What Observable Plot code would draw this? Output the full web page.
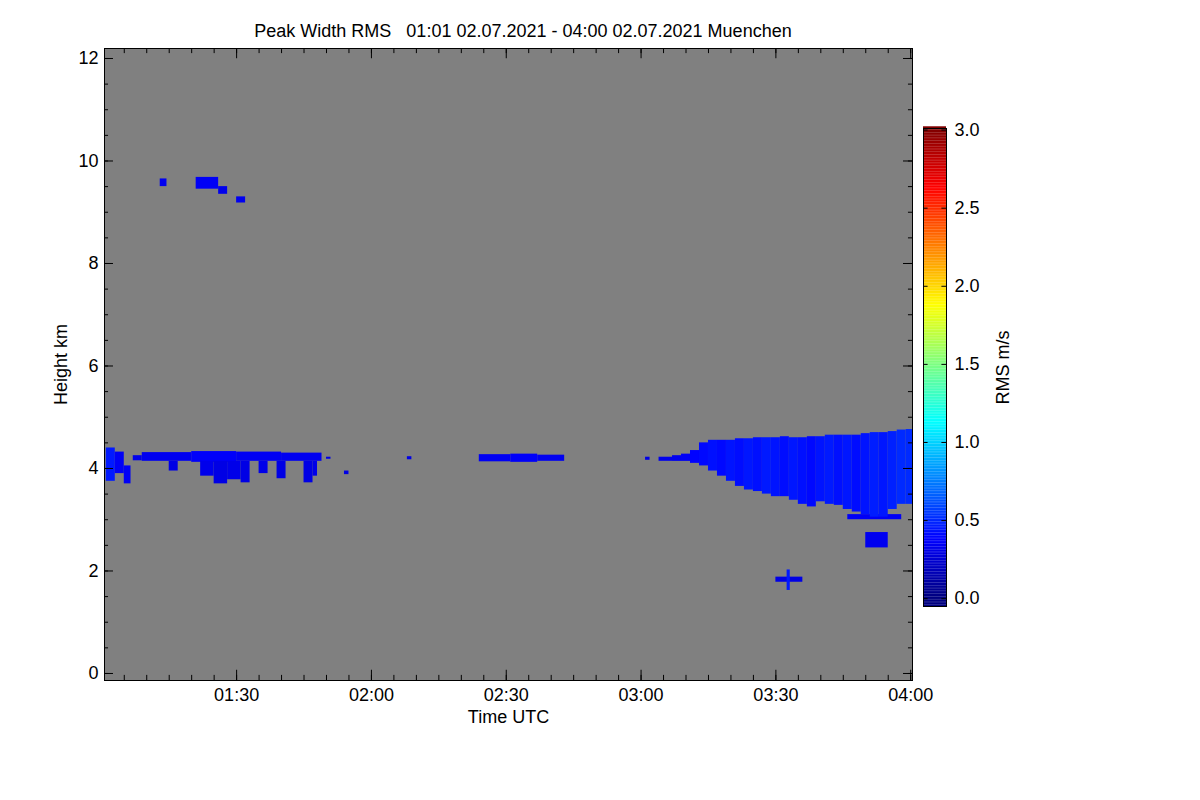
<!DOCTYPE html>
<html><head><meta charset="utf-8">
<script src="https://cdn.jsdelivr.net/npm/d3@7"></script>
<script src="https://cdn.jsdelivr.net/npm/@observablehq/plot@0.6"></script>
<style>
body{margin:0;background:#fff;font-family:"Liberation Sans",Arial,sans-serif;}
#wrap{position:relative;width:1200px;height:800px;}
#title{position:absolute;left:0;width:1046px;top:21px;text-align:center;font-size:18px;color:#000;white-space:pre;}
#main{position:absolute;left:0;top:0;}
#cbar{position:absolute;left:923px;top:0;}
</style></head><body>
<div id="wrap"><div id="title">Peak Width RMS   01:01 02.07.2021 - 04:00 02.07.2021 Muenchen</div><div id="main"></div><div id="cbar"></div></div>
<script>
// minutes since 01:00 UTC, heights in km, value in m/s
// main lower layer and virga patches [t0, t1, top, base, value]
const leftLayer = [
 [1,3,4.4,3.75,0.45],[3,5,4.32,3.9,0.35],[5,6.5,4.05,3.7,0.35],[7,9,4.25,4.15,0.32],
 [9,20,4.31,4.14,0.33],[20,30,4.33,4.12,0.36],[30,40,4.32,4.14,0.34],[40,49,4.3,4.14,0.33],
 [15,17,4.14,3.95,0.3],[22,25,4.14,3.85,0.32],[25,28,4.14,3.7,0.3],[28,31,4.14,3.78,0.31],
 [31,33,4.14,3.72,0.3],[35,37,4.14,3.9,0.31],[39,41,4.14,3.8,0.3],[45,47,4.14,3.72,0.3],
 [47,48,4.14,3.85,0.31],[50,51,4.22,4.18,0.3],[54,55,3.95,3.88,0.3]
];
const midLayer = [
 [68,69,4.23,4.17,0.3],[84,91,4.27,4.13,0.34],[91,97,4.28,4.12,0.36],[97,103,4.26,4.14,0.33],
 [121,122,4.22,4.16,0.3],[124,131,4.22,4.14,0.32]
];
// right cloud columns: time, top, base, value
const rightT    = [127,129,131,133,135,137,139,141,143,145,147,149,151,153,155,157,159,161,163,165,167,169,171,173,175,177,179];
const rightTop  = [4.25,4.28,4.35,4.5,4.55,4.55,4.55,4.58,4.58,4.6,4.6,4.6,4.62,4.6,4.6,4.62,4.62,4.65,4.65,4.65,4.65,4.68,4.7,4.7,4.72,4.75,4.76];
const rightBase = [4.15,4.15,4.1,4.05,3.95,3.85,3.75,3.65,3.58,3.55,3.5,3.45,3.45,3.38,3.3,3.25,3.35,3.3,3.28,3.2,3.15,3.1,3.05,3.05,3.2,3.3,3.3];
const rightVal  = [0.33,0.35,0.38,0.4,0.42,0.4,0.43,0.41,0.44,0.42,0.45,0.43,0.41,0.44,0.42,0.4,0.43,0.45,0.42,0.44,0.41,0.43,0.46,0.44,0.47,0.5,0.5];
// isolated features
const otherPatches = [
 [13,14.5,9.65,9.5,0.33],[21,26,9.68,9.45,0.35],[26,28,9.5,9.35,0.32],[30,32,9.3,9.18,0.33],
 [170,175,2.75,2.45,0.33],[166,178,3.1,3.0,0.35],
 [150,156,1.88,1.78,0.3],[152.5,153.2,2.02,1.62,0.45]
];
const tickTimes = ["01:30","02:00","02:30","03:00","03:30","04:00"];
const heightTicks = [0,2,4,6,8,10,12];
const cbarTicks = [0,0.5,1.0,1.5,2.0,2.5,3.0];

const base = new Date(Date.UTC(2021,6,2,1,0));
const T = m => new Date(base.getTime()+m*60000);
const cells = [];
for (const [a,b,t,bs,v] of [...leftLayer,...midLayer,...otherPatches]) cells.push({x1:T(a),x2:T(b),y1:bs,y2:t,v});
rightT.forEach((t,i)=>cells.push({x1:T(t),x2:T(Math.min(t+2,180.4)),y1:rightBase[i],y2:rightTop[i],v:rightVal[i]}));

const jet = t => {
  const r = Math.min(Math.max(Math.min(4*t-1.5,-4*t+4.5),0),1);
  const g = Math.min(Math.max(Math.min(4*t-0.5,-4*t+3.5),0),1);
  const b = Math.min(Math.max(Math.min(4*t+0.5,-4*t+2.5),0),1);
  return d3.rgb(r*255,g*255,b*255).toString();
};
const col = v => jet(Math.max(0,Math.min(1,v/3.0)));
const minorY = d3.range(0,12.01,0.5);
const minorX = d3.range(5,181,5);
const fmt = d => d3.utcFormat("%H:%M")(d);
const tickDates = tickTimes.map(s=>{const [h,m]=s.split(":").map(Number);return T((h-1)*60+m);});
const X0=0.6, X1=180.4, Y0=-0.137, Y1=12.195;

const main = Plot.plot({
  width:1200,height:800,marginLeft:104,marginRight:288,marginTop:48,marginBottom:120,
  style:{fontFamily:"Liberation Sans, Arial, sans-serif",fontSize:"18px",background:"transparent",color:"#000"},
  x:{type:"utc",domain:[T(X0),T(X1)]},
  y:{domain:[Y0,Y1]},
  marks:[
    Plot.rect([0],{x1:()=>T(X0),x2:()=>T(X1),y1:Y0,y2:Y1,fill:"#808080"}),
    Plot.rect(cells,{x1:"x1",x2:"x2",y1:"y1",y2:"y2",fill:d=>col(d.v)}),
    Plot.ruleY(minorY,{y:d=>d,x1:()=>T(X0),x2:()=>T(X0+0.9),stroke:"#000"}),
    Plot.ruleY(minorY,{y:d=>d,x1:()=>T(X1-0.9),x2:()=>T(X1),stroke:"#000"}),
    Plot.ruleY(heightTicks,{y:d=>d,x1:()=>T(X0),x2:()=>T(X0+2),stroke:"#000"}),
    Plot.ruleY(heightTicks,{y:d=>d,x1:()=>T(X1-2),x2:()=>T(X1),stroke:"#000"}),
    Plot.ruleX(minorX,{x:d=>T(d),y1:Y0,y2:Y0+0.1,stroke:"#000"}),
    Plot.ruleX(minorX,{x:d=>T(d),y1:Y1-0.1,y2:Y1,stroke:"#000"}),
    Plot.ruleX(tickDates,{x:d=>d,y1:Y0,y2:Y0+0.2,stroke:"#000"}),
    Plot.ruleX(tickDates,{x:d=>d,y1:Y1-0.2,y2:Y1,stroke:"#000"}),
    Plot.axisY({ticks:heightTicks,tickSize:0,tickPadding:6,label:"Height km",labelAnchor:"center",labelArrow:"none",labelOffset:50}),
    Plot.axisX({ticks:tickDates,tickFormat:fmt,tickSize:0,tickPadding:8,label:"Time UTC",labelAnchor:"center",labelArrow:"none",labelOffset:42}),
    Plot.frame({stroke:"#000"})
  ]
});
document.getElementById("main").append(main);

const cb = d3.range(-0.05,3.02,0.01);
const cbar = Plot.plot({
  width:120,height:800,marginLeft:0,marginRight:97,marginTop:128,marginBottom:194,
  style:{fontFamily:"Liberation Sans, Arial, sans-serif",fontSize:"18px",background:"transparent",color:"#000"},
  x:{domain:[0,1],axis:null},
  y:{domain:[-0.05,3.01]},
  marks:[
    Plot.rect(cb,{x1:0,x2:1,y1:d=>d,y2:d=>d+0.011,fill:d=>col(d)}),
    Plot.ruleY(cbarTicks,{y:d=>d,x1:0,x2:0.2,stroke:"#000"}),
    Plot.ruleY(cbarTicks,{y:d=>d,x1:0.8,x2:1,stroke:"#000"}),
    Plot.axisY({anchor:"right",ticks:cbarTicks,tickFormat:d3.format(".1f"),tickSize:0,tickPadding:8,label:"RMS m/s",labelAnchor:"center",labelArrow:"none",labelOffset:62}),
    Plot.frame({stroke:"#000"})
  ]
});
document.getElementById("cbar").append(cbar);
</script></body></html>
